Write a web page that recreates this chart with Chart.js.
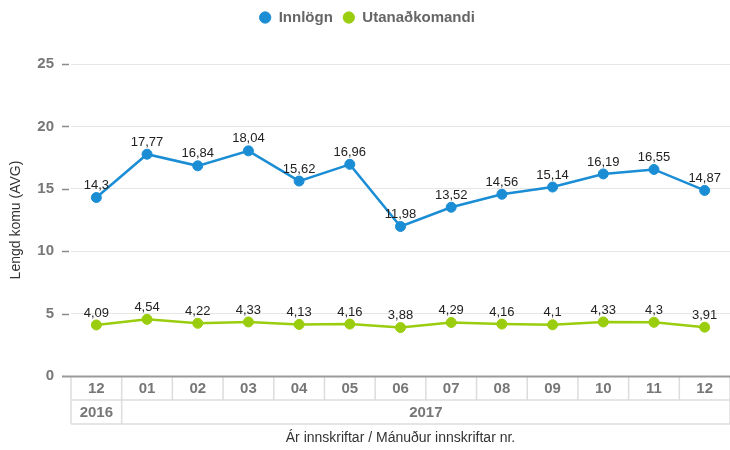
<!DOCTYPE html>
<html>
<head>
<meta charset="utf-8">
<script src="https://cdn.jsdelivr.net/npm/chart.js@4/dist/chart.umd.min.js"></script>
<style>
  html, body { margin: 0; padding: 0; overflow: hidden; background: #fff; }
  #wrap { width: 736px; height: 450px; }
</style>
</head>
<body>
<div id="wrap"><canvas id="c" width="736" height="450"></canvas></div>
<script>
// ---- Data ----
const months = ['12', '01', '02', '03', '04', '05', '06', '07', '08', '09', '10', '11', '12'];
const years = ['2016', '2017'];
const yearSpans = [1, 12];
const innlogn = [14.3, 17.77, 16.84, 18.04, 15.62, 16.96, 11.98, 13.52, 14.56, 15.14, 16.19, 16.55, 14.87];
const utanadkomandi = [4.09, 4.54, 4.22, 4.33, 4.13, 4.16, 3.88, 4.29, 4.16, 4.1, 4.33, 4.3, 3.91];
const yTicks = [0, 5, 10, 15, 20, 25];
const seriesNames = ['Innlögn', 'Utanaðkomandi'];
const xTitle = 'Ár innskriftar / Mánuður innskriftar nr.';
const yTitle = 'Lengd komu (AVG)';

const BLUE = '#1a8dd4';
const GREEN = '#9acd0e';
const FONT = "'Liberation Sans', Arial, sans-serif";

const legendSpacer = {
  id: 'legendSpacer',
  afterInit(chart) {
    const lg = chart.legend;
    if (!lg) return;
    const orig = lg.fit.bind(lg);
    lg.fit = function () { orig(); this.height += 29; };
  }
};

const dataLabels = {
  id: 'dataLabels',
  afterDatasetsDraw(chart) {
    const ctx = chart.ctx;
    ctx.save();
    ctx.font = '13px ' + FONT;
    ctx.fillStyle = '#222';
    ctx.textAlign = 'center';
    ctx.textBaseline = 'middle';
    chart.data.datasets.forEach((ds, di) => {
      const meta = chart.getDatasetMeta(di);
      meta.data.forEach((pt, i) => {
        const txt = String(ds.data[i]).replace('.', ',');
        ctx.fillText(txt, pt.x, pt.y - 12);
      });
    });
    ctx.restore();
  }
};

const axisTable = {
  id: 'axisTable',
  afterDraw(chart) {
    const ctx = chart.ctx;
    const ca = chart.chartArea;
    const ys = chart.scales.y;
    const n = months.length;
    const left = ca.left, right = ca.right;
    const w = (right - left) / n;
    const top = ca.bottom;
    const row1 = top + 24, row2 = top + 48;
    ctx.save();
    // y tick dashes
    ctx.strokeStyle = '#8a8a8a';
    ctx.lineWidth = 1.5;
    yTicks.forEach(v => {
      const y = Math.round(ys.getPixelForValue(v)) + 0.5;
      if (v === 0) return;
      ctx.beginPath();
      ctx.moveTo(left - 9, y);
      ctx.lineTo(left - 2, y);
      ctx.stroke();
    });
    // table lines
    ctx.strokeStyle = '#dcdcdc';
    ctx.lineWidth = 1.5;
    for (let i = 0; i <= n; i++) {
      const x = left + i * w;
      ctx.beginPath();
      ctx.moveTo(x, top);
      ctx.lineTo(x, row1);
      ctx.stroke();
    }
    let acc = 0;
    const bounds = [0];
    yearSpans.forEach(s => { acc += s; bounds.push(acc); });
    bounds.forEach(b => {
      const x = left + b * w;
      ctx.beginPath();
      ctx.moveTo(x, row1);
      ctx.lineTo(x, row2);
      ctx.stroke();
    });
    [row1, row2].forEach(y => {
      ctx.beginPath();
      ctx.moveTo(left, y);
      ctx.lineTo(right, y);
      ctx.stroke();
    });
    // axis line
    ctx.strokeStyle = '#9a9a9a';
    ctx.lineWidth = 2;
    ctx.beginPath();
    ctx.moveTo(left - 9, top + 0.5);
    ctx.lineTo(right, top + 0.5);
    ctx.stroke();
    // labels
    ctx.font = 'bold 15px ' + FONT;
    ctx.fillStyle = '#777';
    ctx.textAlign = 'center';
    ctx.textBaseline = 'middle';
    months.forEach((m, i) => {
      ctx.fillText(m, left + (i + 0.5) * w, top + 13);
    });
    years.forEach((yv, i) => {
      const x = left + (bounds[i] + bounds[i + 1]) / 2 * w;
      ctx.fillText(yv, x, row1 + 13);
    });
    ctx.font = '14px ' + FONT;
    ctx.fillStyle = '#333';
    ctx.fillText(xTitle, (left + right) / 2, row2 + 14);
    ctx.restore();
  }
};

new Chart(document.getElementById('c'), {
  type: 'line',
  data: {
    labels: months,
    datasets: [
      {
        label: seriesNames[0], data: innlogn,
        borderColor: BLUE, backgroundColor: BLUE,
        borderWidth: 2.5, pointRadius: 5, pointHoverRadius: 5,
        pointBackgroundColor: BLUE, pointBorderColor: BLUE, pointBorderWidth: 1,
        tension: 0
      },
      {
        label: seriesNames[1], data: utanadkomandi,
        borderColor: GREEN, backgroundColor: GREEN,
        borderWidth: 2.5, pointRadius: 5, pointHoverRadius: 5,
        pointBackgroundColor: GREEN, pointBorderColor: GREEN, pointBorderWidth: 1,
        tension: 0
      }
    ]
  },
  options: {
    responsive: false,
    animation: false,
    layout: { padding: { top: 0, right: 2, bottom: 0, left: 0 } },
    plugins: {
      legend: {
        position: 'top',
        labels: {
          usePointStyle: true,
          pointStyle: 'circle',
          boxWidth: 12,
          boxHeight: 8,
          padding: 10,
          color: '#666',
          font: { family: FONT, size: 15, weight: 'bold' }
        }
      },
      tooltip: { enabled: false }
    },
    scales: {
      x: {
        type: 'category',
        offset: true,
        grid: { display: false },
        border: { display: false },
        ticks: { display: false },
        afterFit(scale) { scale.height = 74; }
      },
      y: {
        min: 0, max: 25,
        afterBuildTicks(scale) { scale.ticks = yTicks.map(v => ({ value: v })); },
        grid: {
          drawTicks: false,
          color: ctx => (ctx.tick && ctx.tick.value === 0) ? 'rgba(0,0,0,0)' : '#e6e6e6',
          lineWidth: 1
        },
        border: { display: false },
        ticks: {
          padding: 17,
          color: '#777',
          font: { family: FONT, size: 15, weight: 'bold' }
        },
        title: {
          display: true,
          text: yTitle,
          color: '#333',
          font: { family: FONT, size: 14 },
          padding: { top: 8, bottom: 0 }
        },
        afterFit(scale) { scale.width = 71; }
      }
    }
  },
  plugins: [legendSpacer, dataLabels, axisTable]
});
</script>
</body>
</html>
